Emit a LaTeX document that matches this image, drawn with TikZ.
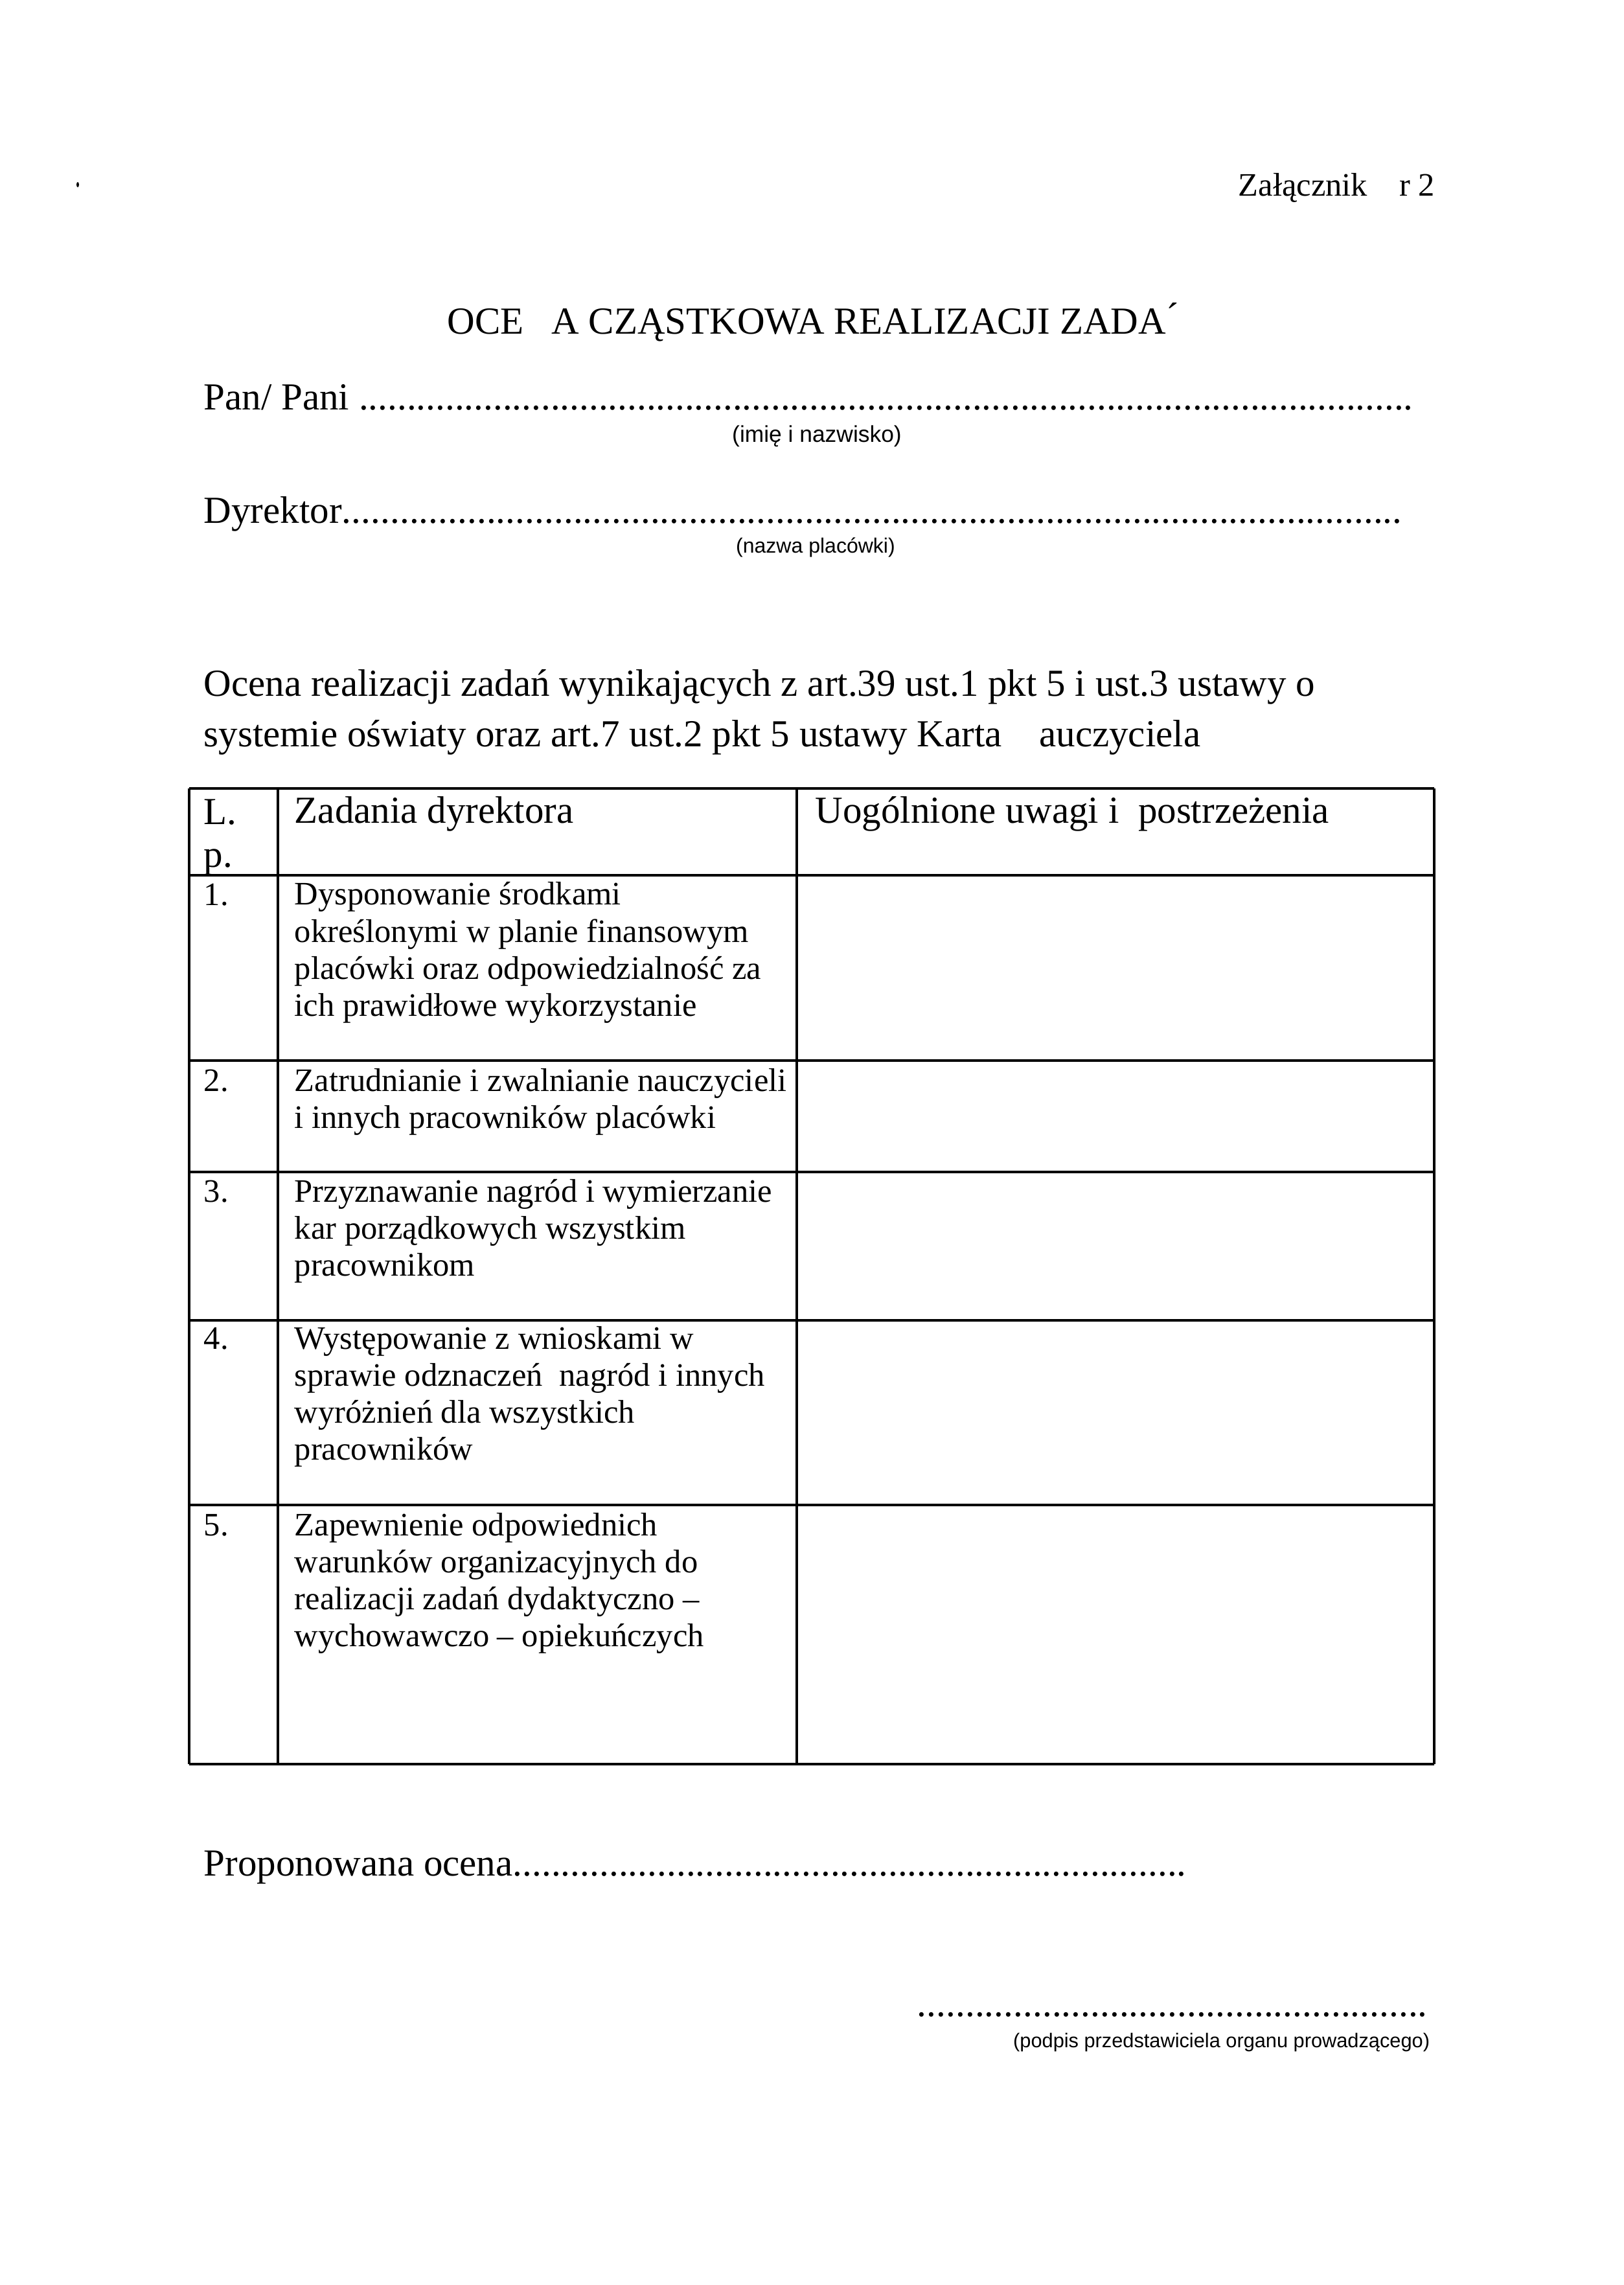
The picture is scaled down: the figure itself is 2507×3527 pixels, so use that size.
\documentclass[tikz,border=0pt]{standalone}
\usepackage{fontspec}
\setmainfont{Liberation Serif}
\newfontfamily\opisfont{Liberation Sans}
\tikzset{
  tekst/.style={anchor=base west, inner sep=0pt, font=\fontsize{14}{16}\selectfont},
  komorka/.style={anchor=base west, inner sep=0pt, align=left, font=\fontsize{12}{13.6}\selectfont},
  opis/.style={anchor=base, inner sep=0pt},
  linia/.style={line width=1pt}
}
\newcommand\kropki[2]{\makebox[#1][l]{#2\xleaders\hbox{.}\hfill}}

\begin{document}
\begin{tikzpicture}[x=0.2373pt, y=-0.2373pt]
    \useasboundingbox[fill=white] (0,0) rectangle (2507,3527);
    % Naglowek
    \fill (120,285) ellipse (2 and 4);
    \node[tekst, font=\fontsize{12}{14}\selectfont] (zal) at (1911,302) {Załącznik \phantom{N}r 2};
    \node[tekst] (tytul) at (690,515) {OCE\phantom{N}A CZĄSTKOWA REALIZACJI ZADA};
    \node[anchor=base, inner sep=0pt, font=\fontsize{14}{16}\selectfont] (akcent) at (1810,508) {´};
    % Dane
    \node[tekst] (pan) at (314,632) {\kropki{443pt}{Pan/ Pani }};
    \node[opis, font=\opisfont\fontsize{8.4}{10}\selectfont] (imie) at (1261,682) {(imię i nazwisko)};
    \node[tekst] (dyr) at (314,807) {\kropki{439pt}{Dyrektor}};
    \node[opis, font=\opisfont\fontsize{7.6}{9}\selectfont] (plac) at (1259,853) {(nazwa placówki)};
    % base = ostatnia linia
    \node[tekst, align=left, font=\fontsize{14}{18.3}\selectfont] (ocena) at (314,1152)
        {Ocena realizacji zadań wynikających z art.39 ust.1 pkt 5 i ust.3 ustawy o\\
         systemie oświaty oraz art.7 ust.2 pkt 5 ustawy Karta \phantom{N}auczyciela};
    % Tabela
    \foreach \y in {1217,1351,1637,1809,2038,2323,2723}
        \draw[linia] (292,\y) -- (2214,\y);
    \foreach \x in {292,429,1230,2214}
        \draw[linia] (\x,1217) -- (\x,2723);
    \node[tekst] (lp) at (314,1272) {L.};
    \node[tekst] (lp2) at (314,1338) {p.};
    \node[tekst] (zad) at (454,1270) {Zadania dyrektora};
    \node[tekst] (uwagi) at (1258,1270) {Uogólnione uwagi i\ \ postrzeżenia};
    \foreach \nr/\y/\n/\txt in {
        1/1397/4/{Dysponowanie środkami\\określonymi w planie finansowym\\placówki oraz odpowiedzialność za\\ich prawidłowe wykorzystanie},
        2/1684/2/{Zatrudnianie i zwalnianie nauczycieli\\i innych pracowników placówki},
        3/1855/3/{Przyznawanie nagród i wymierzanie\\kar porządkowych wszystkim\\pracownikom},
        4/2082/4/{Występowanie z wnioskami w\\sprawie odznaczeń\ \ nagród i innych\\wyróżnień dla wszystkich\\pracowników},
        5/2370/4/{Zapewnienie odpowiednich\\warunków organizacyjnych do\\realizacji zadań dydaktyczno –\\wychowawczo – opiekuńczych}}
    {
        \node[komorka] (nr\nr) at (314,\y) {\nr.};
        \node[komorka] (zad\nr) at (454,{\y+(\n-1)*57.3}) {\txt};
    }
    % Ocena i podpis
    \node[tekst] (prop) at (314,2895) {\kropki{360pt}{Proponowana ocena}};
    \node[tekst] (kropkipodpis) at (1415,3112) {\kropki{187pt}{}};
    \node[opis, anchor=base east, font=\opisfont\fontsize{7.3}{9}\selectfont] (podpis) at (2208,3160)
        {(podpis przedstawiciela organu prowadzącego)};
\end{tikzpicture}
\end{document}
